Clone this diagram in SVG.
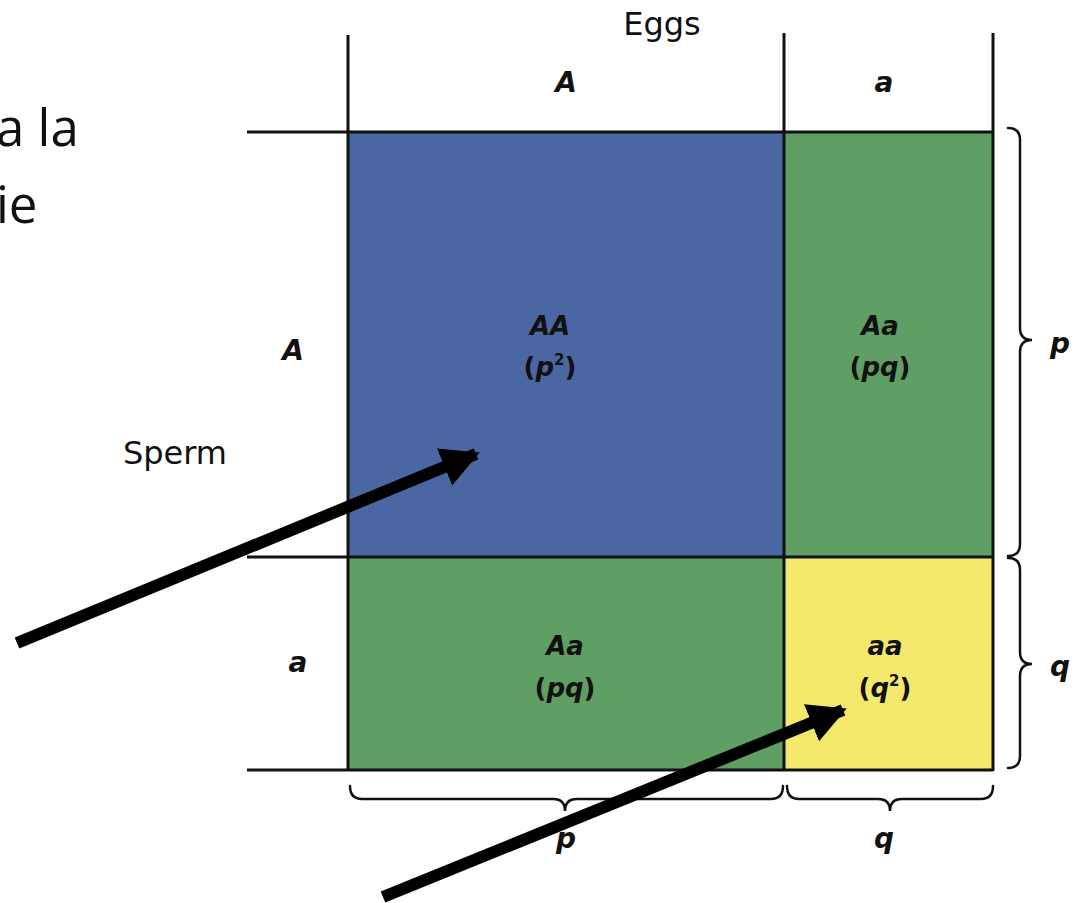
<svg xmlns="http://www.w3.org/2000/svg" width="1080" height="903" viewBox="0 0 1080 903">
<defs>
<style>
.lbl{font-family:"DejaVu Sans","Liberation Sans",sans-serif;fill:#111;}
.it{font-style:oblique;font-weight:bold;}
.cell{font-family:"DejaVu Sans","Liberation Sans",sans-serif;font-weight:bold;font-size:26px;fill:#111;text-anchor:middle;}
.grid{stroke:#111;stroke-width:3;fill:none;}
.brace{stroke:#111;stroke-width:2.5;fill:none;stroke-linecap:round;}
.arrow{stroke:#000;stroke-width:12;fill:none;}
.slide{font-family:"Open Sans","Noto Sans",sans-serif;font-size:51px;fill:#111;}
</style>
<marker id="head" markerUnits="userSpaceOnUse" markerWidth="44" markerHeight="44" refX="34" refY="20" orient="auto">
<path d="M0,0 L38,20 L0,40 Z" fill="#000"/>
</marker>
</defs>
<rect width="1080" height="903" fill="#fff"/>
<g id="slide-text">
<text class="slide" x="-4" y="146">a la</text>
<text class="slide" x="-4" y="223">ie</text>
</g>
<g id="cell-AA">
<rect x="348" y="132" width="436" height="425" fill="#4b67a3"/>
<text class="cell" font-style="oblique" x="550" y="335">AA</text>
<text class="cell" x="550" y="376">(<tspan font-style="oblique">p</tspan><tspan font-size="15" dy="-11">2</tspan><tspan dy="11">)</tspan></text>
</g>
<g id="cell-Aa-top">
<rect x="784" y="132" width="209" height="425" fill="#5f9f63"/>
<text class="cell" font-style="oblique" x="880" y="335">Aa</text>
<text class="cell" x="880" y="376">(<tspan font-style="oblique">pq</tspan>)</text>
</g>
<g id="cell-Aa-bottom">
<rect x="348" y="557" width="436" height="213" fill="#5f9f63"/>
<text class="cell" font-style="oblique" x="565" y="655">Aa</text>
<text class="cell" x="565" y="697">(<tspan font-style="oblique">pq</tspan>)</text>
</g>
<g id="cell-aa">
<rect x="784" y="557" width="209" height="213" fill="#f3e86c"/>
<text class="cell" font-style="oblique" x="885" y="655">aa</text>
<text class="cell" x="885" y="697">(<tspan font-style="oblique">q</tspan><tspan font-size="15" dy="-11">2</tspan><tspan dy="11">)</tspan></text>
</g>
<g id="grid">
<line class="grid" x1="348" y1="35" x2="348" y2="771"/>
<line class="grid" x1="784" y1="33" x2="784" y2="771"/>
<line class="grid" x1="993" y1="33" x2="993" y2="771"/>
<line class="grid" x1="247" y1="132" x2="993" y2="132"/>
<line class="grid" x1="247" y1="557" x2="993" y2="557"/>
<line class="grid" x1="247" y1="770" x2="993" y2="770"/>
</g>
<g id="labels">
<text class="lbl" x="662" y="35" font-size="32" text-anchor="middle">Eggs</text>
<text class="lbl it" x="566" y="92" font-size="28" text-anchor="middle">A</text>
<text class="lbl it" x="884" y="92" font-size="28" text-anchor="middle">a</text>
<text class="lbl it" x="293" y="360" font-size="28" text-anchor="middle">A</text>
<text class="lbl" x="175" y="464" font-size="32" text-anchor="middle">Sperm</text>
<text class="lbl it" x="298" y="672" font-size="28" text-anchor="middle">a</text>
<text class="lbl it" x="1060" y="353" font-size="28" text-anchor="middle">p</text>
<text class="lbl it" x="1060" y="676" font-size="28" text-anchor="middle">q</text>
<text class="lbl it" x="566" y="848" font-size="28" text-anchor="middle">p</text>
<text class="lbl it" x="884" y="848" font-size="28" text-anchor="middle">q</text>
</g>
<g id="braces">
<path class="brace" d="M1008,128 Q1020,128 1020,140 L1020,328 Q1020,340 1032,340 Q1020,340 1020,352 L1020,544 Q1020,556 1008,556"/>
<path class="brace" d="M1008,558 Q1020,558 1020,570 L1020,652 Q1020,664 1032,664 Q1020,664 1020,676 L1020,756 Q1020,768 1008,768"/>
<path class="brace" d="M350,786 Q350,799 362,799 L553,799 Q565,799 565,811 Q565,799 577,799 L771,799 Q783,799 783,786"/>
<path class="brace" d="M787,786 Q787,799 799,799 L878,799 Q890,799 890,811 Q890,799 902,799 L981,799 Q993,799 993,786"/>
</g>
<g id="connectors">
<line class="arrow" x1="17" y1="643" x2="476" y2="454" marker-end="url(#head)"/>
<line class="arrow" x1="383" y1="897" x2="843" y2="710" marker-end="url(#head)"/>
</g>
</svg>
